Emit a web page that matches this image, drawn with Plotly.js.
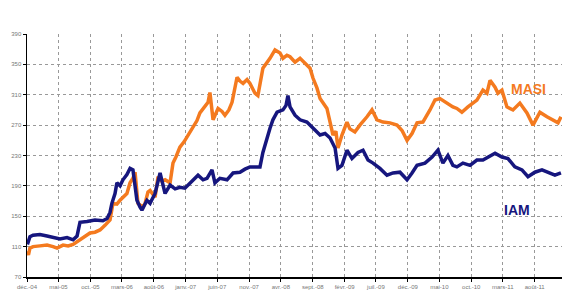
<!DOCTYPE html>
<html>
<head>
<meta charset="utf-8">
<script src="https://cdn.plot.ly/plotly-3.0.1.min.js"></script>
<style>html,body{margin:0;padding:0;background:#fff;}#chart{width:562px;height:290px;}</style>
</head>
<body>
<div id="chart"></div>
<script>
const masiDates = ["2004-12-03","2004-12-08","2004-12-15","2004-12-30","2005-02-01","2005-03-07","2005-04-05","2005-04-24","2005-05-23","2005-06-16","2005-07-10","2005-08-12","2005-09-05","2005-09-29","2005-10-23","2005-11-16","2005-12-10","2006-01-03","2006-01-17","2006-02-05","2006-02-20","2006-03-11","2006-03-25","2006-04-09","2006-04-23","2006-05-03","2006-05-17","2006-06-10","2006-06-20","2006-07-04","2006-07-14","2006-08-07","2006-08-21","2006-09-09","2006-09-24","2006-10-18","2006-11-01","2006-11-15","2006-12-04","2006-12-24","2007-01-07","2007-02-05","2007-02-24","2007-03-10","2007-04-03","2007-04-18","2007-04-27","2007-05-12","2007-06-05","2007-06-24","2007-07-08","2007-07-27","2007-08-11","2007-09-04","2007-09-18","2007-10-03","2007-10-22","2007-11-05","2007-11-29","2007-12-13","2008-01-06","2008-01-26","2008-02-09","2008-03-04","2008-03-28","2008-04-11","2008-04-30","2008-05-15","2008-06-08","2008-07-02","2008-07-26","2008-08-19","2008-09-02","2008-09-21","2008-10-06","2008-10-20","2008-11-08","2008-11-23","2008-12-07","2008-12-21","2008-12-31","2009-01-19","2009-02-02","2009-02-12","2009-02-26","2009-03-22","2009-04-15","2009-05-05","2009-05-19","2009-06-12","2009-07-06","2009-08-04","2009-09-06","2009-10-10","2009-11-03","2009-11-27","2009-12-21","2010-01-14","2010-02-11","2010-03-17","2010-04-10","2010-05-04","2010-06-06","2010-07-05","2010-07-24","2010-08-17","2010-09-15","2010-10-28","2010-11-26","2010-12-15","2010-12-30","2011-01-23","2011-02-06","2011-02-25","2011-03-21","2011-04-19","2011-05-22","2011-06-25","2011-07-24","2011-08-26","2011-09-29","2011-10-28","2011-11-21","2011-12-05"];
const masiValues = [104,99,108,110,111,112,110,108,112,111,113,119,124,128,129,132,138,145,167,166,171,176,180,194,200,208,167,162,167,182,184,175,202,196,198,194,220,228,241,248,254,267,276,286,294,300,313,277,292,288,283,290,300,333,328,325,330,325,312,309,345,352,358,369,365,358,362,360,353,358,352,345,332,319,305,300,292,274,257,262,240,257,268,274,265,261,270,276,281,290,277,274,273,270,263,250,259,273,274,290,303,305,299,294,292,287,294,303,316,312,329,320,312,316,294,290,299,286,270,287,281,277,273,281];

const iamDates = ["2004-12-03","2004-12-15","2004-12-30","2005-02-01","2005-03-07","2005-04-14","2005-05-08","2005-06-11","2005-07-10","2005-07-29","2005-08-12","2005-09-15","2005-10-23","2005-11-30","2005-12-20","2006-01-03","2006-01-12","2006-01-27","2006-02-05","2006-02-20","2006-03-06","2006-03-25","2006-04-09","2006-04-23","2006-05-12","2006-05-27","2006-06-05","2006-06-29","2006-07-14","2006-08-07","2006-08-31","2006-09-24","2006-10-18","2006-11-11","2006-12-04","2006-12-28","2007-01-21","2007-03-01","2007-03-25","2007-04-13","2007-05-07","2007-05-21","2007-06-14","2007-07-18","2007-08-16","2007-09-18","2007-10-12","2007-11-05","2007-11-29","2007-12-23","2008-01-06","2008-01-26","2008-02-09","2008-02-23","2008-03-14","2008-04-11","2008-04-26","2008-05-05","2008-05-15","2008-06-08","2008-07-02","2008-08-04","2008-09-02","2008-10-06","2008-10-30","2008-11-23","2008-12-17","2008-12-31","2009-01-19","2009-02-12","2009-03-08","2009-04-06","2009-04-30","2009-05-24","2009-06-17","2009-07-20","2009-08-23","2009-09-21","2009-10-24","2009-11-27","2009-12-21","2010-01-14","2010-02-21","2010-03-27","2010-04-24","2010-05-18","2010-06-11","2010-07-05","2010-07-24","2010-08-22","2010-09-25","2010-10-28","2010-11-26","2010-12-30","2011-01-23","2011-02-25","2011-03-26","2011-04-28","2011-06-01","2011-06-30","2011-08-02","2011-09-05","2011-10-04","2011-11-06","2011-12-05"];
const iamValues = [113,123,125,126,124,122,120,122,119,124,142,143,145,144,147,155,167,180,194,190,198,205,213,211,171,162,158,171,167,180,207,180,191,186,188,187,194,204,198,200,211,194,200,198,207,208,212,215,215,215,234,255,266,277,287,290,296,309,294,283,277,274,266,257,259,253,240,213,217,237,226,234,237,224,220,213,204,207,208,198,207,217,220,228,237,220,230,217,215,220,217,224,224,230,233,228,226,215,211,202,208,211,208,204,207];

const tickDates = ["2004-12-01","2005-05-01","2005-10-01","2006-03-01","2006-08-01","2007-01-01","2007-06-01","2007-11-01","2008-04-01","2008-09-01","2009-02-01","2009-07-01","2009-12-01","2010-05-01","2010-10-01","2011-03-01","2011-08-01"];
const tickLabels = ["déc.-04","mai-05","oct.-05","mars-06","août-06","janv.-07","juin-07","nov.-07","avr.-08","sept.-08","févr.-09","juil.-09","déc.-09","mai-10","oct.-10","mars-11","août-11"];
const yTicks = [70,110,150,190,230,270,310,350,390];

const orange = "#f47a1f";
const navy = "#16167e";

const traces = [
  {x: masiDates, y: masiValues, type: "scatter", mode: "lines", name: "MASI",
   line: {color: orange, width: 3.5}},
  {x: iamDates, y: iamValues, type: "scatter", mode: "lines", name: "IAM",
   line: {color: navy, width: 3.5}}
];

const layout = {
  width: 562, height: 290,
  margin: {l: 27, r: 0, t: 34, b: 13},
  paper_bgcolor: "#fff", plot_bgcolor: "#fff",
  showlegend: false,
  font: {family: "Liberation Sans, Arial, sans-serif", size: 6, color: "#666"},
  xaxis: {
    type: "date",
    range: ["2004-12-01", "2011-12-10"],
    tickmode: "array", tickvals: tickDates, ticktext: tickLabels,
    showgrid: true, gridcolor: "#999", griddash: "dot", gridwidth: 1,
    showline: true, linecolor: "#000", linewidth: 1.5,
    ticks: "outside", ticklen: 3, tickcolor: "#000",
    tickfont: {size: 6, color: "#777"}, zeroline: false
  },
  yaxis: {
    range: [70, 390],
    tickmode: "array", tickvals: yTicks,
    showgrid: true, gridcolor: "#999", griddash: "dot", gridwidth: 1,
    showline: true, linecolor: "#000", linewidth: 1.5,
    ticks: "outside", ticklen: 3, tickcolor: "#000",
    tickfont: {size: 6, color: "#777"}, zeroline: false
  },
  annotations: [
    {x: "2011-04-01", y: 318, xref: "x", yref: "y", text: "<b>MASI</b>", showarrow: false,
     xanchor: "left", yanchor: "middle", font: {size: 14, color: orange, family: "Liberation Sans, Arial, sans-serif"}},
    {x: "2011-02-26", y: 158, xref: "x", yref: "y", text: "<b>IAM</b>", showarrow: false,
     xanchor: "left", yanchor: "middle", font: {size: 14, color: navy, family: "Liberation Sans, Arial, sans-serif"}}
  ]
};

Plotly.newPlot("chart", traces, layout, {staticPlot: true, displayModeBar: false});
</script>
</body>
</html>
